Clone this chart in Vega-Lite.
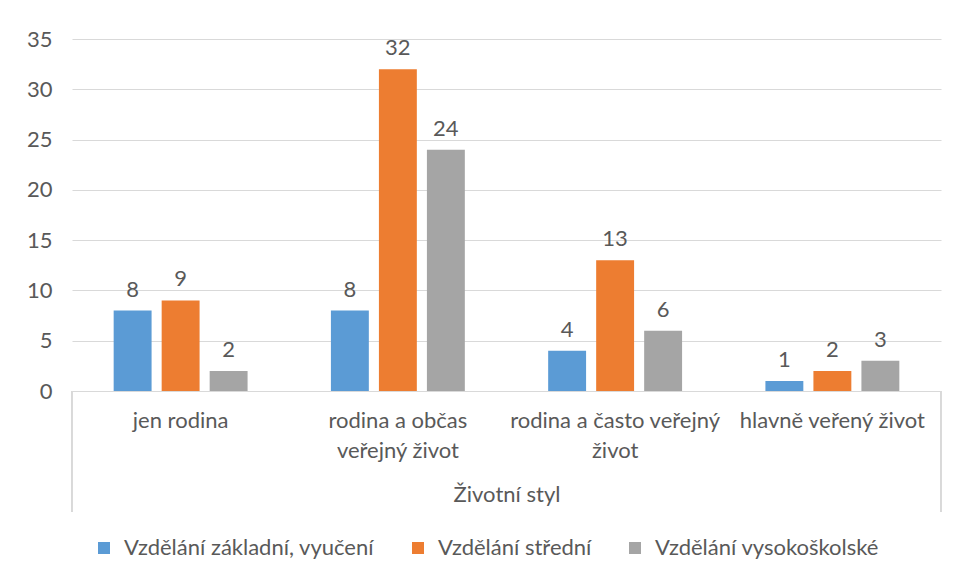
{
  "$schema": "https://vega.github.io/schema/vega-lite/v6.json",
  "width": 869,
  "height": 352,
  "autosize": "none",
  "padding": {"left": 72, "top": 39, "right": 14, "bottom": 189},
  "background": "white",
  "config": {
    "font": "Lato",
    "view": {"stroke": null},
    "axis": {"labelColor": "#595959", "titleColor": "#595959", "labelFontWeight": "normal", "titleFontWeight": "normal"},
    "legend": {"labelColor": "#595959"}
  },
  "data": {
    "values": [
      {"styl": "jen rodina", "vzdelani": "Vzdělání základní, vyučení", "pocet": 8},
      {"styl": "jen rodina", "vzdelani": "Vzdělání střední", "pocet": 9},
      {"styl": "jen rodina", "vzdelani": "Vzdělání vysokoškolské", "pocet": 2},
      {"styl": "rodina a občas veřejný život", "vzdelani": "Vzdělání základní, vyučení", "pocet": 8},
      {"styl": "rodina a občas veřejný život", "vzdelani": "Vzdělání střední", "pocet": 32},
      {"styl": "rodina a občas veřejný život", "vzdelani": "Vzdělání vysokoškolské", "pocet": 24},
      {"styl": "rodina a často veřejný život", "vzdelani": "Vzdělání základní, vyučení", "pocet": 4},
      {"styl": "rodina a často veřejný život", "vzdelani": "Vzdělání střední", "pocet": 13},
      {"styl": "rodina a často veřejný život", "vzdelani": "Vzdělání vysokoškolské", "pocet": 6},
      {"styl": "hlavně veřený život", "vzdelani": "Vzdělání základní, vyučení", "pocet": 1},
      {"styl": "hlavně veřený život", "vzdelani": "Vzdělání střední", "pocet": 2},
      {"styl": "hlavně veřený život", "vzdelani": "Vzdělání vysokoškolské", "pocet": 3}
    ]
  },
  "encoding": {
    "x": {
      "field": "styl",
      "type": "nominal",
      "scale": {
        "domain": ["jen rodina", "rodina a občas veřejný život", "rodina a často veřejný život", "hlavně veřený život"],
        "paddingInner": 0,
        "paddingOuter": 0
      },
      "axis": {
        "title": "Životní styl",
        "titleFontSize": 22,
        "titlePadding": 23,
        "labelAngle": 0,
        "labelFontSize": 22,
        "labelLineHeight": 30,
        "labelPadding": 19,
        "labelLimit": 300,
        "ticks": false,
        "domainColor": "#D9D9D9",
        "domainWidth": 1,
        "labelExpr": "datum.value == 'rodina a občas veřejný život' ? ['rodina a občas', 'veřejný život'] : datum.value == 'rodina a často veřejný život' ? ['rodina a často veřejný', 'život'] : datum.value"
      }
    },
    "y": {
      "field": "pocet",
      "type": "quantitative",
      "scale": {"domain": [0, 35], "nice": false},
      "axis": {
        "title": null,
        "values": [0, 5, 10, 15, 20, 25, 30, 35],
        "domain": false,
        "ticks": false,
        "gridColor": "#D9D9D9",
        "labelFontSize": 22,
        "labelPadding": 20
      }
    }
  },
  "layer": [
    {
      "mark": {"type": "bar"},
      "encoding": {
        "xOffset": {
          "field": "vzdelani",
          "type": "nominal",
          "scale": {
            "domain": ["Vzdělání základní, vyučení", "Vzdělání střední", "Vzdělání vysokoškolské"],
            "paddingInner": 0.21,
            "paddingOuter": 0.868
          }
        },
        "color": {
          "field": "vzdelani",
          "type": "nominal",
          "scale": {
            "domain": ["Vzdělání základní, vyučení", "Vzdělání střední", "Vzdělání vysokoškolské"],
            "range": ["#5B9BD5", "#ED7D31", "#A5A5A5"]
          },
          "legend": {
            "title": null,
            "orient": "none",
            "legendX": 21,
            "legendY": 498,
            "direction": "horizontal",
            "columns": 3,
            "columnPadding": 32,
            "symbolType": "square",
            "symbolSize": 144,
            "symbolStrokeWidth": 0,
            "symbolOpacity": 1,
            "labelFontSize": 22,
            "labelOffset": 9,
            "labelLimit": 400,
            "padding": 0
          }
        }
      }
    },
    {
      "mark": {"type": "text", "baseline": "bottom", "dy": -9, "fontSize": 22, "color": "#595959"},
      "encoding": {
        "xOffset": {"field": "vzdelani", "type": "nominal"},
        "text": {"field": "pocet", "type": "quantitative"}
      }
    },
    {
      "mark": {"type": "rule", "color": "#D9D9D9"},
      "encoding": {
        "x": {"datum": "jen rodina", "type": "nominal", "bandPosition": 0},
        "y": {"datum": 0, "type": "quantitative"},
        "y2": {"datum": -12}
      }
    },
    {
      "mark": {"type": "rule", "color": "#D9D9D9"},
      "encoding": {
        "x": {"datum": "hlavně veřený život", "type": "nominal", "bandPosition": 1},
        "y": {"datum": 0, "type": "quantitative"},
        "y2": {"datum": -12}
      }
    }
  ]
}
